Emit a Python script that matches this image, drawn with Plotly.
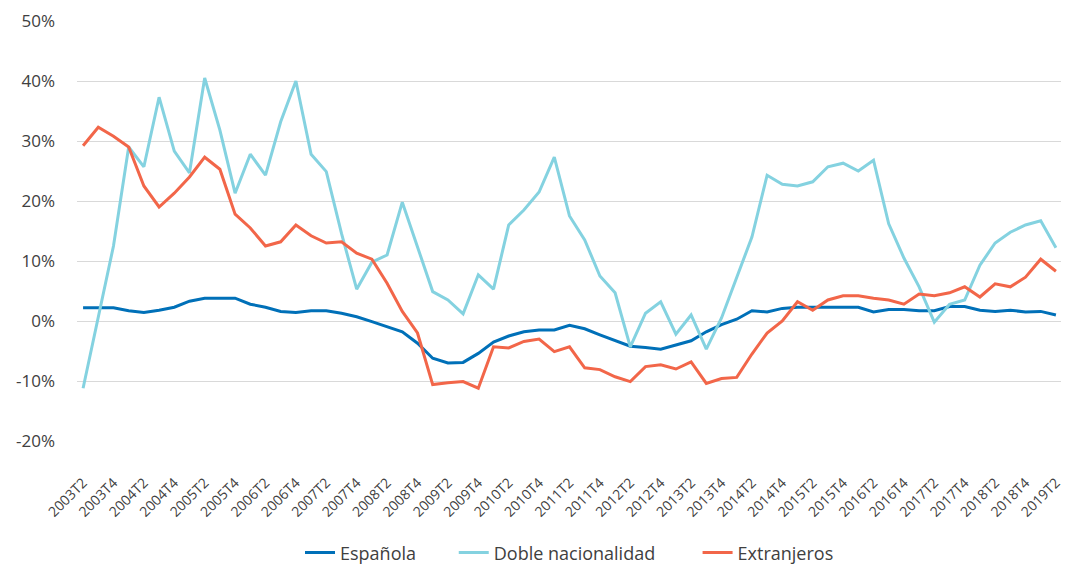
import plotly.graph_objects as go

quarters = [f"{y}T{q}" for y in range(2003, 2020) for q in range(1, 5)]
quarters = quarters[1:quarters.index("2019T2") + 1]

espanola = [2.2, 2.2, 2.2, 1.7, 1.4, 1.8, 2.3, 3.3, 3.8, 3.8, 3.8, 2.8, 2.3, 1.6, 1.4, 1.7,
            1.7, 1.3, 0.7, -0.1, -0.9, -1.8, -3.7, -6.2, -7.0, -6.9, -5.4, -3.5, -2.5, -1.8, -1.5, -1.5,
            -0.7, -1.3, -2.3, -3.2, -4.2, -4.4, -4.7, -4.0, -3.3, -1.8, -0.6, 0.3, 1.7, 1.5, 2.1, 2.3,
            2.3, 2.3, 2.2, 2.3, 1.5, 1.9, 1.9, 1.7, 1.7, 2.4, 2.4, 1.8, 1.6, 1.8, 1.5, 1.6, 1.0]

doble = [-11.2, 0.5, 12.5, 29.0, 25.7, 37.3, 28.3, 24.7, 40.5, 31.8, 21.3, 27.8, 24.3, 33.2, 40.0, 27.8,
         24.9, 14.6, 5.3, 9.8, 11.0, 19.8, 12.3, 4.9, 3.5, 1.2, 7.7, 5.3, 16.0, 18.5, 21.5, 27.3,
         17.5, 13.5, 7.5, 4.7, -4.3, 1.3, 3.2, -2.2, 1.0, -4.7, 0.5, 7.2, 14.0, 24.3, 22.8, 22.5,
         23.2, 25.7, 26.3, 25.0, 26.8, 16.2, 10.5, 5.7, -0.2, 2.8, 3.5, 9.3, 13.0, 14.8, 16.0, 16.7, 12.2]

extranjeros = [29.2, 32.3, 30.8, 29.0, 22.5, 19.0, 21.3, 24.0, 27.3, 25.3, 17.8, 15.5, 12.5, 13.2, 16.0, 14.2,
               13.0, 13.2, 11.3, 10.3, 6.3, 1.6, -2.0, -10.6, -10.3, -10.1, -11.2, -4.3, -4.5, -3.4, -3.0, -5.1,
               -4.3, -7.8, -8.1, -9.3, -10.1, -7.6, -7.3, -8.0, -6.8, -10.4, -9.6, -9.4, -5.5, -2.0, 0.0, 3.2,
               1.8, 3.5, 4.2, 4.2, 3.8, 3.5, 2.8, 4.5, 4.2, 4.7, 5.7, 4.0, 6.2, 5.7, 7.3, 10.3, 8.3]

tick_labels = [q for q in quarters if q.endswith("T2") or q.endswith("T4")]
y_ticks = [-20, -10, 0, 10, 20, 30, 40, 50]
y_tick_text = [f"{v}%" for v in y_ticks]

series_names = ["Española", "Doble nacionalidad", "Extranjeros"]
series_values = [espanola, doble, extranjeros]
series_colors = ["#0070B8", "#84D2E0", "#F26649"]
legend_pad = [7, 8, 0]  # non-breaking spaces to widen legend spacing

fig = go.Figure()
for name, vals, color, pad in zip(series_names, series_values, series_colors, legend_pad):
    fig.add_trace(go.Scatter(x=quarters, y=vals, name=name + "\u00a0" * pad, mode="lines",
                             line=dict(color=color, width=3)))

# page body has an 8px margin: size the figure so it fits the 1069x568 window
fig.update_layout(
    width=1055, height=560,
    margin=dict(l=69, r=1, t=13, b=127, autoexpand=False),
    paper_bgcolor="white", plot_bgcolor="white",
    font=dict(family="Open Sans", color="#404040"),
    showlegend=True,
    legend=dict(orientation="h", x=0.5, xanchor="center",
                yref="container", y=0.027, yanchor="middle",
                font=dict(size=18, color="#404040"), traceorder="normal"),
)
fig.update_xaxes(type="category", tickvals=tick_labels, ticktext=tick_labels,
                 tickangle=-45, tickfont=dict(size=14, color="#404040"),
                 showgrid=False, showline=False, ticks="", automargin=False,
                 ticklabelstandoff=30,
                 range=[-0.4, len(quarters) - 0.6])
fig.update_yaxes(range=[-20, 50], tickmode="array", tickvals=y_ticks, ticktext=y_tick_text,
                 tickfont=dict(size=17, color="#404040"), automargin=False,
                 showgrid=True, gridcolor="#D9D9D9", gridwidth=1,
                 zeroline=False, showline=False, ticklabelstandoff=21)

fig.write_html("out.html")
